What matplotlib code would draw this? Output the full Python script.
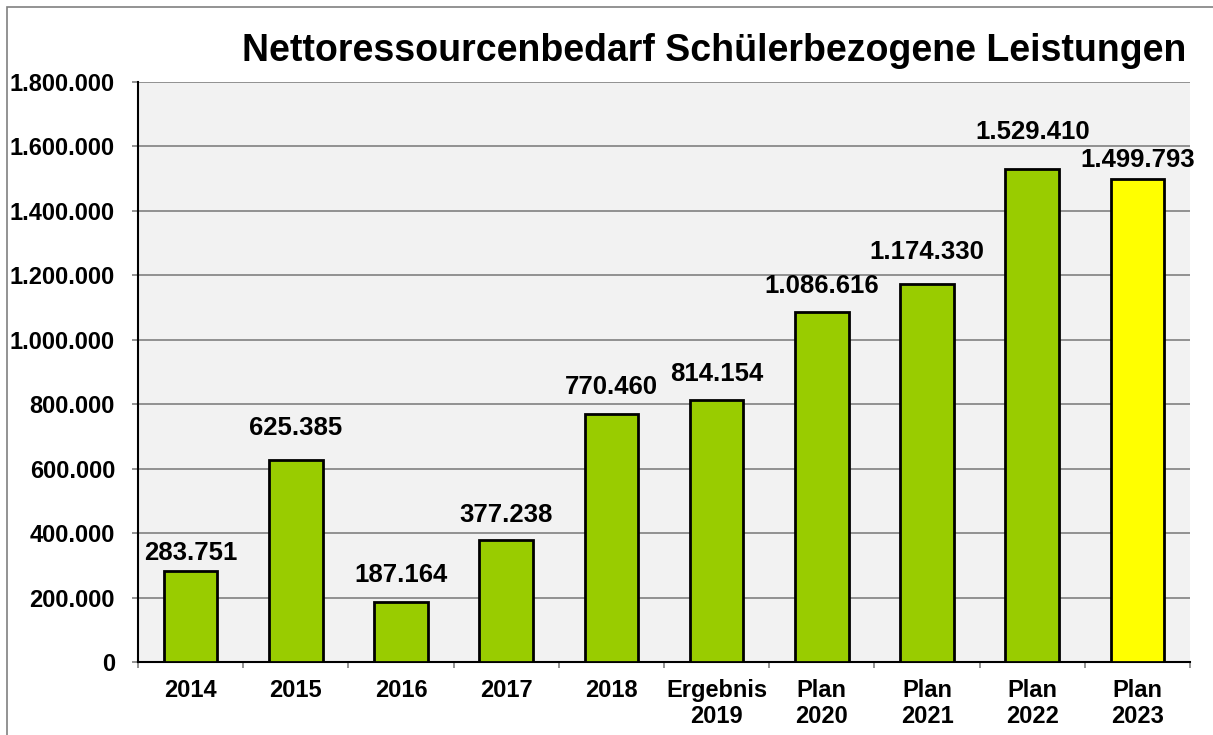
import matplotlib.pyplot as plt
from matplotlib.patches import Rectangle
from matplotlib.ticker import FuncFormatter

# ==== Daten ====
categories = ['2014', '2015', '2016', '2017', '2018', 'Ergebnis\n2019',
              'Plan\n2020', 'Plan\n2021', 'Plan\n2022', 'Plan\n2023']
values = [283751, 625385, 187164, 377238, 770460, 814154,
          1086616, 1174330, 1529410, 1499793]
bar_colors = ['#99cc00'] * 9 + ['#ffff00']
yticks = list(range(0, 1800001, 200000))

# Abstand der Beschriftung ueber dem Balken (Pixel, wie im Original)
label_gap_px = [9, 24, 18, 17, 18, 17, 17, 23, 29, 10]

plt.rcParams['font.family'] = ['Liberation Sans', 'DejaVu Sans']

def de_fmt(v):
    return f"{int(v):,}".replace(',', '.')

fig = plt.figure(figsize=(12.13, 7.35), dpi=100)
ax = fig.add_axes([138 / 1213, 1 - 662 / 735, 1052 / 1213, 580 / 735])

# Rahmen um die Grafik
fig.patches.append(Rectangle((7 / 1213, -0.1), 1.2, 1 - 7 / 735 + 0.1,
                             transform=fig.transFigure, fill=False,
                             edgecolor='#808080', linewidth=1.2))

x = list(range(len(values)))
ax.set_facecolor('#f2f2f2')
ax.bar(x, values, width=0.51, color=bar_colors, edgecolor='black', linewidth=2, zorder=3)

for xi, v, gap in zip(x, values, label_gap_px):
    ax.annotate(de_fmt(v), (xi, v), xytext=(0, (gap + 1.5) * 0.72), textcoords='offset points',
                ha='center', va='baseline', fontsize=18.5, fontweight='bold')

ax.set_xlim(-0.5, len(values) - 0.5)
ax.set_ylim(0, 1800000)
ax.set_yticks(yticks)
ax.yaxis.set_major_formatter(FuncFormatter(lambda v, p: de_fmt(v)))
ax.grid(axis='y', color='#808080', linewidth=1.2, zorder=0)

ax.set_xticks([i - 0.5 for i in range(len(values) + 1)], minor=False)
ax.set_xticklabels([])
ax.set_xticks(x, minor=True)
ax.set_xticklabels(categories, minor=True, fontsize=17, fontweight='bold', linespacing=1.2)
ax.tick_params(axis='x', which='major', length=4.5, width=1.2, color='#808080', direction='out')
ax.tick_params(axis='x', which='minor', length=0, pad=12)
ax.tick_params(axis='y', length=4.5, width=1.2, color='#808080', labelsize=17, pad=12)
for lab in ax.get_yticklabels():
    lab.set_fontweight('bold')

for side in ['top', 'right']:
    ax.spines[side].set_visible(False)
ax.spines['left'].set_linewidth(1.5)
ax.spines['bottom'].set_linewidth(1.5)

fig.text(1186 / 1213, 1 - 51 / 735, 'Nettoressourcenbedarf Schülerbezogene Leistungen',
         ha='right', va='center', fontsize=27, fontweight='bold')

plt.savefig('out.png', dpi=100)
